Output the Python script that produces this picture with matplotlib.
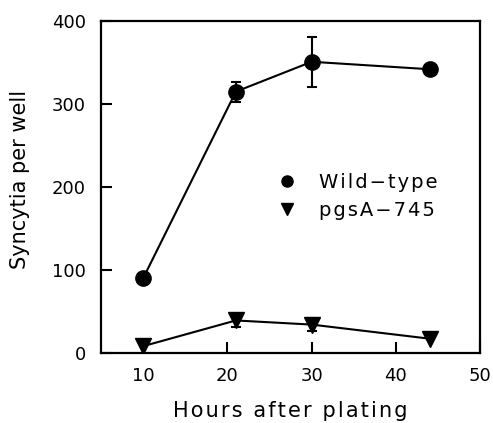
import numpy as np
import matplotlib
matplotlib.use("Agg")
import matplotlib.pyplot as plt
from matplotlib.lines import Line2D

# Data
hours = np.array([10, 21, 30, 44])
wild_type = np.array([90, 315, 351, 342])
wild_type_err = np.array([0, 12, 30, 0])
pgsa = np.array([8, 39, 34, 17])
pgsa_err = np.array([0, 8, 8, 0])


def spaced(s):
    # widen the letter spacing with hair spaces, like the original typeface
    return "\u200a".join(s)


plt.rcParams["font.family"] = ["DejaVu Sans"]

fig = plt.figure(figsize=(4.93, 4.23), dpi=100)
ax = fig.add_axes([0.205, 0.166, 0.769, 0.784])

for y, err, mk in [(wild_type, wild_type_err, "o"), (pgsa, pgsa_err, "v")]:
    ax.plot(hours, y, "-", marker=mk, color="black", markersize=11,
            linewidth=1.5)
    has_err = err > 0
    ax.errorbar(hours[has_err], y[has_err], yerr=err[has_err], fmt="none",
                ecolor="black", elinewidth=1.5, capsize=3.6, capthick=1.5)

ax.set_xlim(5, 50)
ax.set_ylim(0, 400)
ax.set_xticks([10, 20, 30, 40, 50])
ax.set_yticks([0, 100, 200, 300, 400])
ax.tick_params(direction="in", length=8, width=1.5, labelsize=13)
ax.tick_params(axis="x", pad=10)
ax.tick_params(axis="y", pad=11)
for s in ax.spines.values():
    s.set_linewidth(1.6)

fig.text(290 / 493, 1 - 417 / 423, spaced("Hours after plating"),
         fontsize=15, ha="center", va="baseline")
fig.text(20 / 493, 1 - 179 / 423, "Syncytia per well",
         fontsize=15, ha="center", va="center", rotation=90)

handles = [Line2D([], [], linestyle="none", marker="o", color="black",
                  markersize=8),
           Line2D([], [], linestyle="none", marker="v", color="black",
                  markersize=8)]
labels = [spaced("Wild\u2212type"), spaced("pgsA\u2212745")]
ax.legend(handles, labels, loc="center left", bbox_to_anchor=(0.425, 0.472),
          frameon=False, fontsize=14, handlelength=0.8, handletextpad=1.2,
          labelspacing=0.45)

fig.savefig("out.png", dpi=100)
